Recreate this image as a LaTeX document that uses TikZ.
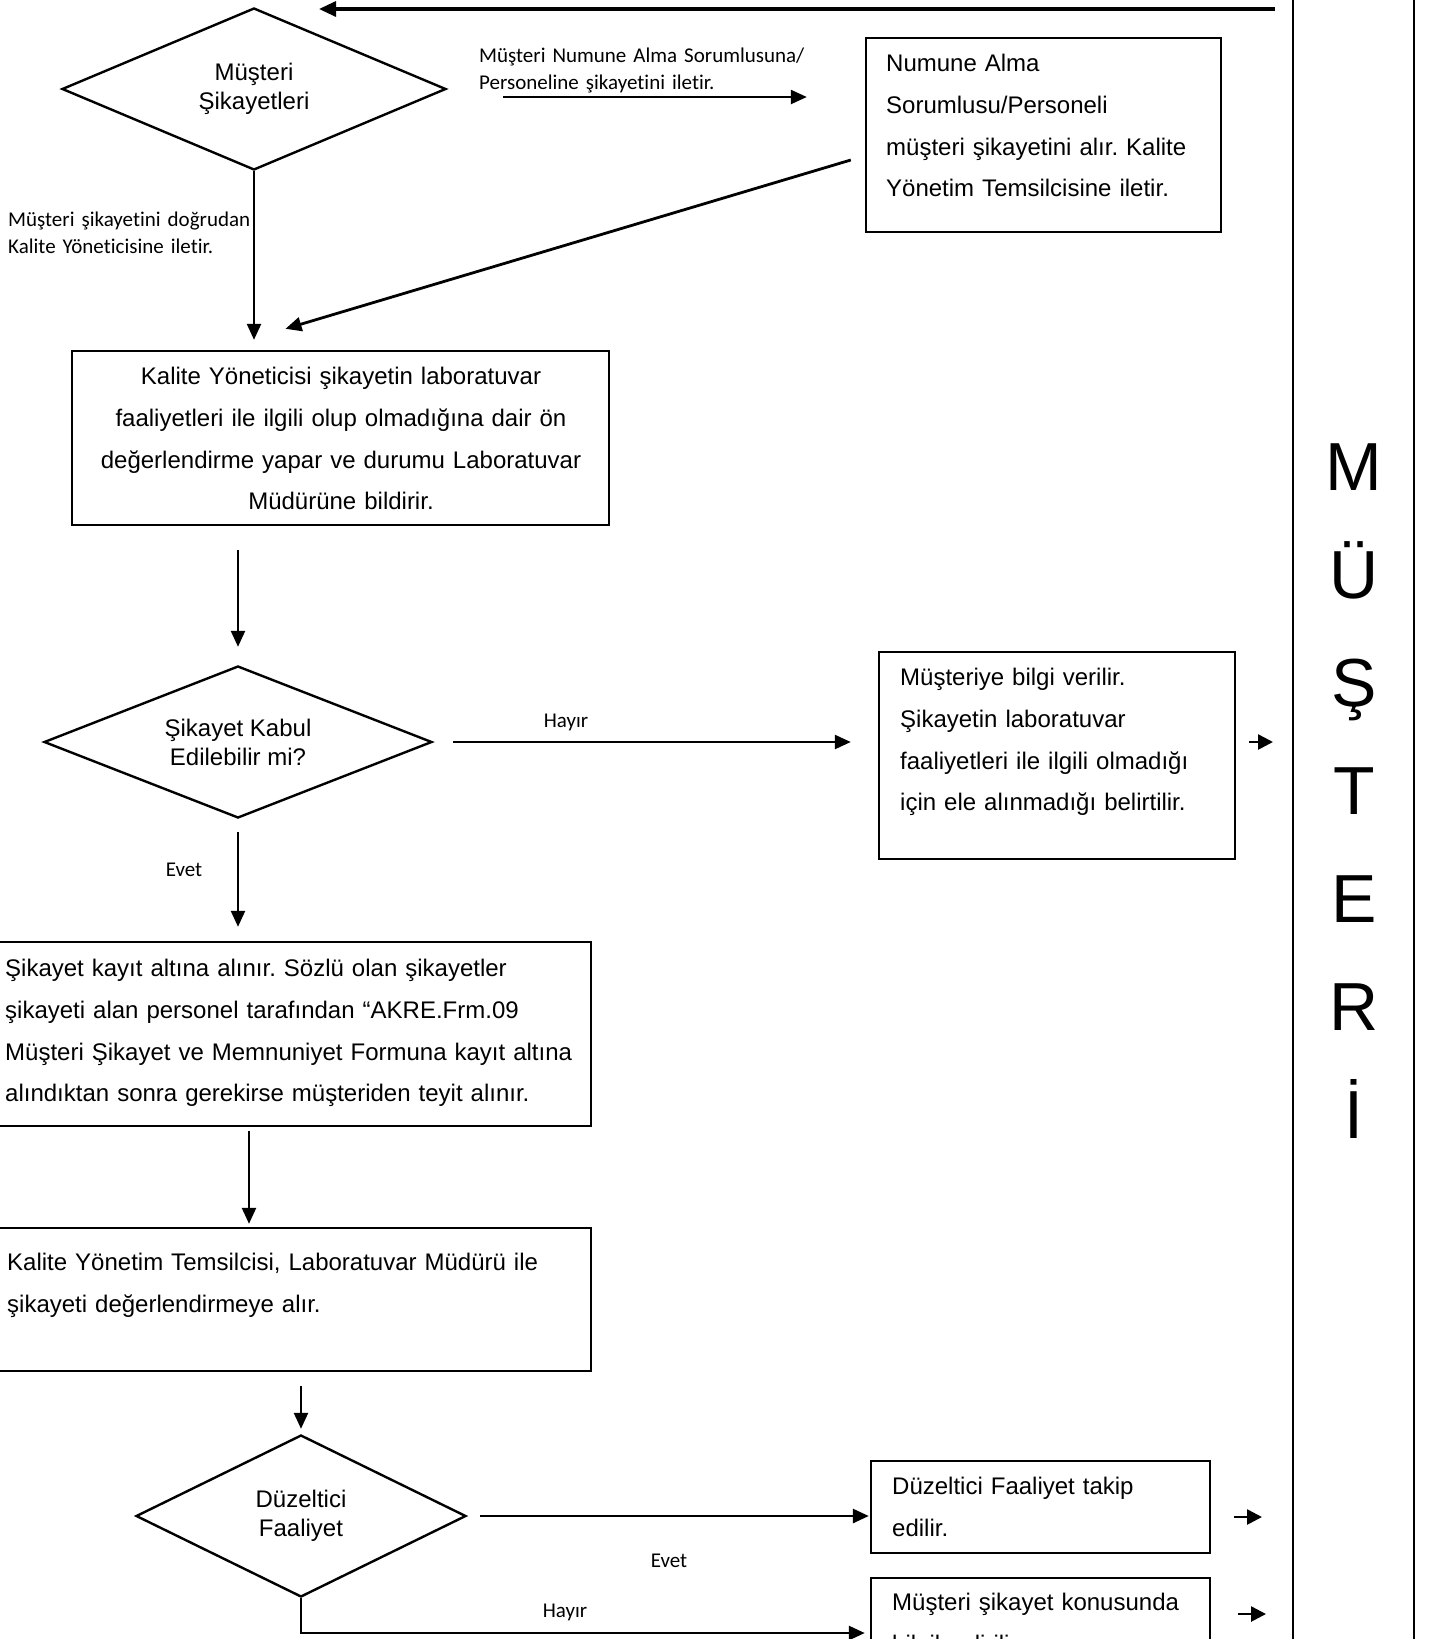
\documentclass[tikz,border=0pt]{standalone}
\usepackage{fontspec}
\setmainfont{Liberation Sans}
\newfontfamily\calib[Ligatures=NoCommon]{Carlito}
\usetikzlibrary{shapes.geometric,arrows.meta,calc}
\frenchspacing
\begin{document}
\begin{tikzpicture}[x=1pt,y=-1pt,
  box/.style={draw,line width=2.4pt,rectangle,inner sep=0pt},
  dia/.style={draw,line width=2.4pt,diamond,inner sep=0pt,shape aspect=2,align=center,font=\fontsize{24}{29}\selectfont},
  btxt/.style={inner sep=0pt,anchor=north west,text width=720pt,align=left,font=\fontsize{24}{41.8}\selectfont},
  ctxt/.style={inner sep=0pt,anchor=north,text width=530pt,align=center,font=\fontsize{24}{41.8}\selectfont},
  lbl/.style={inner sep=0pt,anchor=north west,text width=400pt,align=left,font=\calib\fontsize{21}{27}\selectfont},
  yn/.style={inner sep=0pt,anchor=base,font=\calib\fontsize{21}{27}\selectfont},
  arr/.style={line width=2.4pt,-{Triangle[length=16pt,width=14pt]}},
  sarr/.style={line width=2.6pt,-{Triangle[length=15pt,width=15pt]}},
  big/.style={inner sep=0pt,anchor=base,font=\fontsize{68}{80}\selectfont}
]
\useasboundingbox (0,0) rectangle (1429,1639);
\clip (0,0) rectangle (1429,1639);

% lane
\draw[line width=2.6pt] (1293,-5) -- (1293,1645);
\draw[line width=2.6pt] (1414,-5) -- (1414,1645);
\foreach \L [count=\i from 0] in {M,Ü,Ş,T,E,R,İ}
  \node[big] (lane\i) at (1354,490+108*\i) {\L};

% diamonds
\node[dia,minimum width=384pt,minimum height=162pt] (d1) at (254,89) {Müşteri\\Şikayetleri};
\node[dia,minimum width=388pt,minimum height=152pt] (d2) at (238,742) {Şikayet Kabul\\Edilebilir mi?};
\node[dia,minimum width=330pt,minimum height=162pt] (d3) at (301,1516) {Düzeltici\\Faaliyet};

% boxes
\node[box,minimum width=355pt,minimum height=194pt] (b1) at (1043.5,135) {};
\node[box,minimum width=537pt,minimum height=174pt] (b2) at (340.5,438) {};
\node[box,minimum width=356pt,minimum height=207pt] (b3) at (1057,755.5) {};
\node[box,minimum width=596pt,minimum height=184pt] (b4) at (293,1034) {};
\node[box,minimum width=596pt,minimum height=143pt] (b5) at (293,1299.5) {};
\node[box,minimum width=339pt,minimum height=92pt] (b6) at (1040.5,1507) {};
\node[box,minimum width=339pt,minimum height=110pt] (b7) at (1040.5,1633) {};

% box texts
\node[btxt] (t1) at (886,42) {\strut Numune Alma\\Sorumlusu/Personeli\\müşteri şikayetini alır. Kalite\\Yönetim Temsilcisine iletir.};
\node[ctxt] (t2) at (341,355) {\strut Kalite Yöneticisi şikayetin laboratuvar\\faaliyetleri ile ilgili olup olmadığına dair ön\\değerlendirme yapar ve durumu Laboratuvar\\Müdürüne bildirir.};
\node[btxt] (t3) at (900,656) {\strut Müşteriye bilgi verilir.\\Şikayetin laboratuvar\\faaliyetleri ile ilgili olmadığı\\için ele alınmadığı belirtilir.};
\node[btxt] (t4) at (5,947) {\strut Şikayet kayıt altına alınır. Sözlü olan şikayetler\\şikayeti alan personel tarafından “AKRE.Frm.09\\Müşteri Şikayet ve Memnuniyet Formuna kayıt altına\\alındıktan sonra gerekirse müşteriden teyit alınır.};
\node[btxt] (t5) at (7,1241) {\strut Kalite Yönetim Temsilcisi, Laboratuvar Müdürü ile\\şikayeti değerlendirmeye alır.};
\node[btxt] (t6) at (892,1465) {\strut Düzeltici Faaliyet takip\\edilir.};
\node[btxt] (t7) at (892,1581) {\strut Müşteri şikayet konusunda\\bilgilendirilir.};

% labels
\node[lbl] (l1) at (479,43) {\strut Müşteri Numune Alma Sorumlusuna/\\Personeline şikayetini iletir.};
\node[lbl] (l2) at (8,207) {\strut Müşteri şikayetini doğrudan\\Kalite Yöneticisine iletir.};
\node[yn] (h1) at (566,727) {Hayır};
\node[yn] (e1) at (184,876) {Evet};
\node[yn] (e2) at (669,1567) {Evet};
\node[yn] (h2) at (565,1617) {Hayır};

% free-end coordinates
\coordinate (rtA) at (1275,9);
\coordinate (rtB) at (319,9);
\coordinate (s1a) at (1249,742);
\coordinate (s1b) at (1273,742);
\coordinate (s2a) at (1234,1517);
\coordinate (s2b) at (1262,1517);
\coordinate (s3a) at (1238,1614);
\coordinate (s3b) at (1266,1614);

% connectors
\draw[line width=3.2pt,-{Triangle[length=17pt,width=15pt]}] (rtA) -- (rtB);
\draw[arr,shorten <=56pt,shorten >=58pt] ([shift={(0,8)}]d1.east) -- ([shift={(0,8)}]d1.east -| b1.west);
\draw[arr,line width=2.8pt] ([shift={(-14,25)}]b1.west) -- ([shift={(-55,-21)}]b2.north);
\draw[arr,shorten >=10pt] (d1.south) -- (d1.south |- b2.north);
\draw[arr,shorten <=24pt,shorten >=18pt] (b2.south -| d2.north) -- (d2.north);
\draw[arr,shorten <=20pt,shorten >=27pt] (d2.east) -- (d2.east -| b3.west);
\draw[sarr] (s1a) -- (s1b);
\draw[arr,shorten <=13pt,shorten >=14pt] (d2.south) -- (d2.south |- b4.north);
\draw[arr,shorten <=4pt,shorten >=3pt] ([shift={(-44,0)}]b4.south) -- ([shift={(-44,0)}]b5.north);
\draw[arr,shorten <=14pt,shorten >=5pt] (b5.south -| d3.north) -- (d3.north);
\draw[arr,line width=2.8pt,shorten <=13pt,shorten >=1pt] (d3.east) -- (d3.east -| b6.west);
\draw[sarr] (s2a) -- (s2b);
\draw[arr,line width=2.8pt,shorten >=5pt] (d3.south) |- (b7.west);
\draw[sarr] (s3a) -- (s3b);
\end{tikzpicture}
\end{document}
